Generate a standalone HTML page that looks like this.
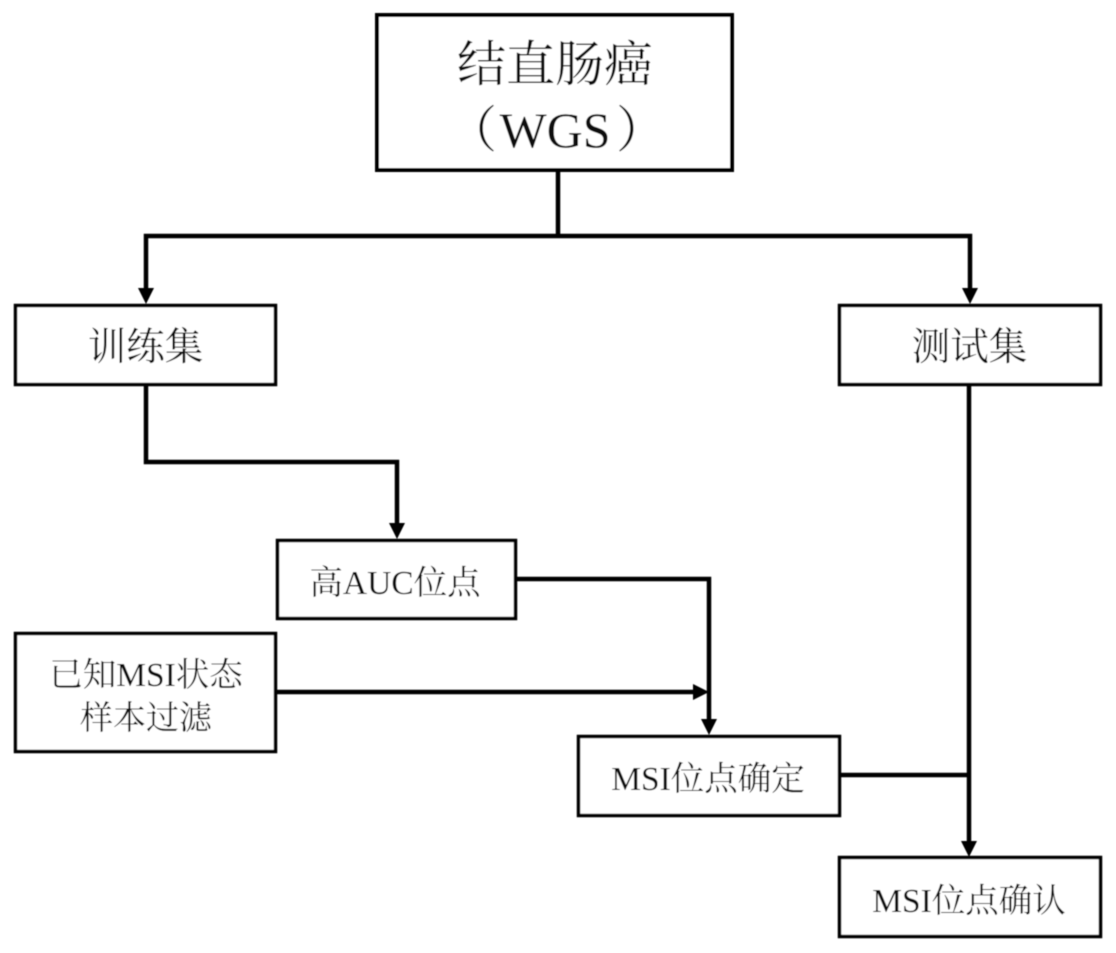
<!DOCTYPE html>
<html lang="zh">
<head>
<meta charset="utf-8">
<style>
html,body{margin:0;padding:0;background:#fff;width:1116px;height:953px;overflow:hidden}
svg{display:block}
text{font-family:"Liberation Serif","Noto Serif CJK SC",serif;fill:#111;text-anchor:middle}
.b{fill:#fff;stroke:#000;stroke-width:3.500}
.l{fill:none;stroke:#000;stroke-width:4.500;stroke-linejoin:miter}
.a{fill:#000}
</style>
</head>
<body>
<svg width="1116" height="953" viewBox="0 0 1116 953" xmlns="http://www.w3.org/2000/svg">
<defs><filter id="s" filterUnits="userSpaceOnUse" x="0" y="0" width="1116" height="953"><feGaussianBlur stdDeviation="0.4"/></filter></defs>
<rect width="1116" height="953" fill="#fff"/>
<g filter="url(#s)">
<path class="l" d="M558 171V236"/>
<path class="l" d="M146 288V236H970V288"/>
<path class="l" d="M146 385V462H397V523"/>
<path class="l" d="M516 579H709V720"/>
<path class="l" d="M277 692H694"/>
<path class="l" d="M840 775H969"/>
<path class="l" d="M969 385V841"/>
<polygon class="a" points="138,288 154,288 146,304"/>
<polygon class="a" points="962,288 978,288 970,304"/>
<polygon class="a" points="389,523 405,523 397,539"/>
<polygon class="a" points="693,684 709,692 693,700"/>
<polygon class="a" points="701,719 717,719 709,735"/>
<polygon class="a" points="961,841 977,841 969,857"/>
<rect x="377" y="15" width="355" height="155" fill="#fff" stroke="#000" stroke-width="4"/>
<rect class="b" x="15.500" y="305.500" width="260" height="79"/>
<rect class="b" x="839.500" y="305.500" width="261" height="79"/>
<rect class="b" x="277.500" y="540.500" width="238" height="78"/>
<rect class="b" x="15.500" y="633.500" width="260" height="118"/>
<rect class="b" x="578.500" y="736.500" width="261" height="79"/>
<rect class="b" x="839.500" y="857.500" width="261" height="79"/>
<text x="555" y="81" font-size="49">结直肠癌</text>
<text x="472" y="147" font-size="50">（</text>
<text x="555" y="147" font-size="50">WGS</text>
<text x="641" y="147" font-size="50">）</text>
<text x="145.500" y="360" font-size="38.500">训练集</text>
<text x="969.500" y="360" font-size="38.500">测试集</text>
<text x="395" y="594" font-size="33.500">高AUC位点</text>
<text x="146" y="686" font-size="33.500">已知MSI状态</text>
<text x="146" y="729" font-size="33">样本过滤</text>
<text x="708" y="790" font-size="33.500">MSI位点确定</text>
<text x="969" y="912" font-size="33.500">MSI位点确认</text>
</g>
</svg>
</body>
</html>
